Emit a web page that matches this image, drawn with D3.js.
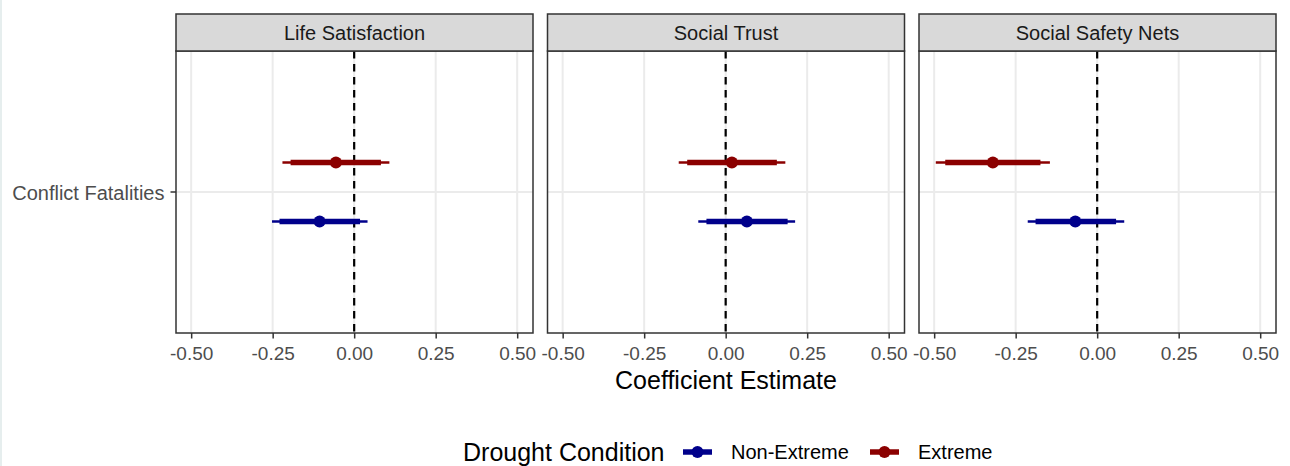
<!DOCTYPE html>
<html>
<head>
<meta charset="utf-8">
<script src="https://cdn.jsdelivr.net/npm/d3@7"></script>
<style>
  body { margin: 0; background: #fff; }
  svg { font-family: "Liberation Sans", Arial, sans-serif; }
</style>
</head>
<body>
<svg id="chart" width="1290" height="466"></svg>
<script>
// Data
var outcomes = ['Life Satisfaction', 'Social Trust', 'Social Safety Nets'];
var conditions = ['Non-Extreme', 'Extreme'];
var term = 'Conflict Fatalities';
var xTicks = [-0.5, -0.25, 0, 0.25, 0.5];

// estimate, inner interval (thick), outer interval (thin)
var nonExtremeEst  = [-0.106, 0.065, -0.067];
var nonExtremeLo90 = [-0.229, -0.059, -0.189];
var nonExtremeHi90 = [0.018, 0.190, 0.058];
var nonExtremeLo95 = [-0.252, -0.084, -0.213];
var nonExtremeHi95 = [0.041, 0.213, 0.083];

var extremeEst  = [-0.056, 0.019, -0.320];
var extremeLo90 = [-0.195, -0.118, -0.466];
var extremeHi90 = [0.082, 0.157, -0.174];
var extremeLo95 = [-0.220, -0.144, -0.495];
var extremeHi95 = [0.108, 0.183, -0.145];

var colors = { 'Non-Extreme': '#00008b', 'Extreme': '#8b0000' };

var rows = [];
outcomes.forEach(function(o, i) {
    rows.push({ outcome: o, cond: 'Non-Extreme', est: nonExtremeEst[i],
        lo90: nonExtremeLo90[i], hi90: nonExtremeHi90[i], lo95: nonExtremeLo95[i], hi95: nonExtremeHi95[i] });
    rows.push({ outcome: o, cond: 'Extreme', est: extremeEst[i],
        lo90: extremeLo90[i], hi90: extremeHi90[i], lo95: extremeLo95[i], hi95: extremeHi95[i] });
});

var svg = d3.select('#chart');

// faint page edge on the left
svg.append('rect').attr('x', 0).attr('y', 0).attr('width', 2).attr('height', 466).attr('fill', '#e6eeee');

var panelLefts = [176, 547.5, 919];
var panelW = 357;
var stripTop = 14, stripH = 37;
var panelTop = stripTop + stripH, panelBottom = 333;

var x = d3.scaleLinear().domain([-0.5465, 0.5485]).range([0, panelW]);
var yBand = d3.scaleBand().domain([term]).range([panelTop, panelBottom]);
var yMid = yBand(term) + yBand.bandwidth() / 2;
var dodge = d3.scalePoint().domain(['Extreme', 'Non-Extreme']).range([-29.5, 29.5]);

outcomes.forEach(function(o, i) {
    var g = svg.append('g').attr('transform', 'translate(' + panelLefts[i] + ',0)');

    // grid
    g.selectAll('.vgrid').data(xTicks).enter().append('line')
        .attr('x1', function(d) { return x(d); }).attr('x2', function(d) { return x(d); })
        .attr('y1', panelTop).attr('y2', panelBottom)
        .attr('stroke', '#ebebeb').attr('stroke-width', 2);
    g.append('line').attr('x1', 0).attr('x2', panelW).attr('y1', yMid).attr('y2', yMid)
        .attr('stroke', '#ebebeb').attr('stroke-width', 2);

    // zero line
    g.append('line').attr('x1', x(0)).attr('x2', x(0)).attr('y1', panelTop).attr('y2', panelBottom)
        .attr('stroke', '#000').attr('stroke-width', 2.2).attr('stroke-dasharray', '7.5,5.5');

    var pts = rows.filter(function(r) { return r.outcome === o; });
    var mk = g.selectAll('.mark').data(pts).enter().append('g');
    mk.append('line')
        .attr('x1', function(d) { return x(d.lo95); }).attr('x2', function(d) { return x(d.hi95); })
        .attr('y1', function(d) { return yMid + dodge(d.cond); }).attr('y2', function(d) { return yMid + dodge(d.cond); })
        .attr('stroke', function(d) { return colors[d.cond]; }).attr('stroke-width', 2.4);
    mk.append('line')
        .attr('x1', function(d) { return x(d.lo90); }).attr('x2', function(d) { return x(d.hi90); })
        .attr('y1', function(d) { return yMid + dodge(d.cond); }).attr('y2', function(d) { return yMid + dodge(d.cond); })
        .attr('stroke', function(d) { return colors[d.cond]; }).attr('stroke-width', 5.5);
    mk.append('circle')
        .attr('cx', function(d) { return x(d.est); })
        .attr('cy', function(d) { return yMid + dodge(d.cond); })
        .attr('r', 6).attr('fill', function(d) { return colors[d.cond]; });

    // panel border
    g.append('rect').attr('x', 0).attr('y', panelTop).attr('width', panelW).attr('height', panelBottom - panelTop)
        .attr('fill', 'none').attr('stroke', '#333').attr('stroke-width', 1.5);

    // strip
    g.append('rect').attr('x', 0).attr('y', stripTop).attr('width', panelW).attr('height', stripH)
        .attr('fill', '#d9d9d9').attr('stroke', '#333').attr('stroke-width', 1.5);
    g.append('text').attr('x', panelW / 2).attr('y', stripTop + stripH / 2 + 7.2)
        .attr('text-anchor', 'middle').attr('font-size', 20).attr('fill', '#1a1a1a').text(o);

    // x axis
    var ax = g.append('g').attr('transform', 'translate(0,' + panelBottom + ')')
        .call(d3.axisBottom(x).tickValues(xTicks).tickSize(5.5)
            .tickFormat(function(d) { return d3.format('.2f')(d).replace('−', '-'); }));
    ax.select('.domain').remove();
    ax.selectAll('.tick line').attr('stroke', '#333').attr('stroke-width', 1.5);
    ax.selectAll('.tick text').attr('font-size', 19).attr('fill', '#4d4d4d')
        .attr('y', 27).attr('dy', 0)
        .attr('font-family', '"Liberation Sans", Arial, sans-serif');
});

// y axis
var yAx = svg.append('g').attr('transform', 'translate(' + panelLefts[0] + ',0)')
    .call(d3.axisLeft(yBand).tickSize(5.5).tickPadding(6));
yAx.select('.domain').remove();
yAx.selectAll('.tick line').attr('stroke', '#333').attr('stroke-width', 1.5);
yAx.selectAll('.tick text').attr('font-size', 20).attr('fill', '#4d4d4d').attr('dy', 7.5)
    .attr('font-family', '"Liberation Sans", Arial, sans-serif');

// x title
svg.append('text').attr('x', (panelLefts[0] + panelLefts[2] + panelW) / 2).attr('y', 388.5)
    .attr('text-anchor', 'middle').attr('font-size', 25).attr('fill', '#000').text('Coefficient Estimate');

// legend
var leg = svg.append('g').attr('transform', 'translate(0,452)');
leg.append('text').attr('x', 463).attr('y', 8.7).attr('font-size', 25).attr('fill', '#000').text('Drought Condition');
var legX = { 'Non-Extreme': 683, 'Extreme': 870 };
conditions.forEach(function(c) {
    var k = leg.append('g').attr('transform', 'translate(' + legX[c] + ',0)');
    k.append('line').attr('x1', 0).attr('x2', 29).attr('y1', 0).attr('y2', 0)
        .attr('stroke', colors[c]).attr('stroke-width', 5.5);
    k.append('circle').attr('cx', 14.5).attr('cy', 0).attr('r', 6).attr('fill', colors[c]);
    k.append('text').attr('x', 48).attr('y', 7.2).attr('font-size', 20).attr('fill', '#000').text(c);
});
</script>
</body>
</html>
